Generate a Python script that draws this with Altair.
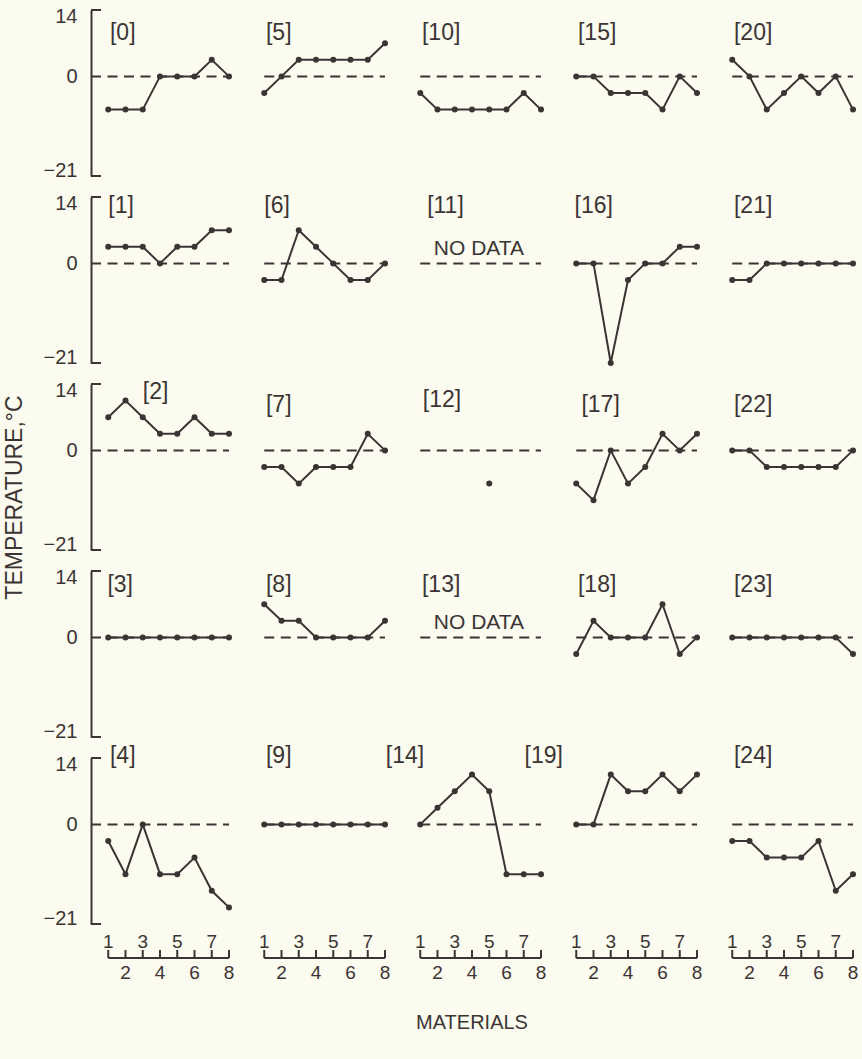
import altair as alt
import pandas as pd

# ---------------- data ----------------
materials = [1, 2, 3, 4, 5, 6, 7, 8]
y_ticks = [14, 0, -21]
odd_ticks = [1, 3, 5, 7]
even_ticks = [2, 4, 6, 8]

t0 = [-7, -7, -7, 0, 0, 0, 3.5, 0]
t1 = [3.5, 3.5, 3.5, 0, 3.5, 3.5, 7, 7]
t2 = [7, 10.5, 7, 3.5, 3.5, 7, 3.5, 3.5]
t3 = [0, 0, 0, 0, 0, 0, 0, 0]
t4 = [-3.5, -10.5, 0, -10.5, -10.5, -7, -14, -17.5]
t5 = [-3.5, 0, 3.5, 3.5, 3.5, 3.5, 3.5, 7]
t6 = [-3.5, -3.5, 7, 3.5, 0, -3.5, -3.5, 0]
t7 = [-3.5, -3.5, -7, -3.5, -3.5, -3.5, 3.5, 0]
t8 = [7, 3.5, 3.5, 0, 0, 0, 0, 3.5]
t9 = [0, 0, 0, 0, 0, 0, 0, 0]
t10 = [-3.5, -7, -7, -7, -7, -7, -3.5, -7]
t11 = [None, None, None, None, None, None, None, None]
t12 = [None, None, None, None, -7, None, None, None]
t13 = [None, None, None, None, None, None, None, None]
t14 = [0, 3.5, 7, 10.5, 7, -10.5, -10.5, -10.5]
t15 = [0, 0, -3.5, -3.5, -3.5, -7, 0, -3.5]
t16 = [0, 0, -21, -3.5, 0, 0, 3.5, 3.5]
t17 = [-7, -10.5, 0, -7, -3.5, 3.5, 0, 3.5]
t18 = [-3.5, 3.5, 0, 0, 0, 7, -3.5, 0]
t19 = [0, 0, 10.5, 7, 7, 10.5, 7, 10.5]
t20 = [3.5, 0, -7, -3.5, 0, -3.5, 0, -7]
t21 = [-3.5, -3.5, 0, 0, 0, 0, 0, 0]
t22 = [0, 0, -3.5, -3.5, -3.5, -3.5, -3.5, 0]
t23 = [0, 0, 0, 0, 0, 0, 0, -3.5]
t24 = [-3.5, -3.5, -7, -7, -7, -3.5, -14, -10.5]

series = [t0, t1, t2, t3, t4, t5, t6, t7, t8, t9, t10, t11, t12, t13, t14,
          t15, t16, t17, t18, t19, t20, t21, t22, t23, t24]
no_data_panels = [11, 13]

# panel label anchors (data units) – annotation placement
label_row_y = [9.1, 12, 9.6, 11, 14.5]
label_x_default = 1.1
label_override = {1: (1.0, 12), 2: (3.0, 12.3), 3: (0.95, 11), 6: (1.0, 12),
                  11: (1.4, 12), 12: (1.15, 10.6), 14: (-1.0, 14.5),
                  16: (0.9, 12), 17: (1.3, 9.6), 19: (-2.0, 14.5)}
no_data_anchor = (4.4, 3.0)

# ---------------- style ----------------
INK = "#3b3434"
BG = "#fbfbef"
FONT = "Liberation Sans"
W, H = 138, 166
X_DOMAIN = [0, 8]
Y_DOMAIN = [-21, 14]


def xsc():
    return alt.Scale(domain=X_DOMAIN, nice=False, zero=False)


def ysc():
    return alt.Scale(domain=Y_DOMAIN, nice=False, zero=False)


def panel(i, r, c):
    if c == 0:
        kw = dict(values=y_ticks, ticks=False, grid=False, domain=True,
                  domainColor=INK, domainWidth=2, labelColor=INK, labelFont=FONT,
                  labelFontSize=20, labelPadding=14, labelFlush=True,
                  labelFlushOffset=4, title=None)
        if r == 2:
            kw.update(title="TEMPERATURE,°C", titleX=-77, titleY=113, titleAngle=270,
                      titleFont=FONT, titleFontSize=23, titleFontWeight="normal",
                      titleColor=INK, titleAlign="center", titleBaseline="middle")
        yaxis = alt.Axis(**kw)
    else:
        yaxis = None

    def X(f):
        return alt.X(f, type="quantitative", scale=xsc(), axis=None)

    def Y(f):
        return alt.Y(f, type="quantitative", scale=ysc(), axis=yaxis)

    layers = []
    zdf = pd.DataFrame({"x0": [X_DOMAIN[0] if c == 0 else materials[0]],
                        "x1": [materials[-1]], "y": [0]})
    layers.append(alt.Chart(zdf).mark_rule(color=INK, strokeWidth=2, strokeDash=[10, 6.5])
                  .encode(x=X("x0"), x2="x1:Q", y=Y("y")))

    if c == 0:
        bdf = pd.DataFrame({"y": [Y_DOMAIN[1], Y_DOMAIN[0]]})
        layers.append(alt.Chart(bdf).mark_rule(color=INK, strokeWidth=2)
                      .encode(x=alt.value(0), x2=alt.value(10), y=Y("y")))

    df = pd.DataFrame({"material": materials, "temp": series[i]}).dropna()
    if len(df) > 0:
        df["temp"] = df["temp"].astype(float)
        layers.append(alt.Chart(df).mark_line(color=INK, strokeWidth=2)
                      .encode(x=X("material"), y=Y("temp")))
        layers.append(alt.Chart(df).mark_circle(color=INK, size=36, opacity=1)
                      .encode(x=X("material"), y=Y("temp")))

    lx, ly = label_override.get(i, (label_x_default, label_row_y[r]))
    ldf = pd.DataFrame({"lx": [lx], "ly": [ly], "name": [f"[{i}]"]})
    layers.append(alt.Chart(ldf).mark_text(align="left", baseline="middle", font=FONT,
                                           fontSize=23, color=INK)
                  .encode(x=X("lx"), y=Y("ly"), text="name:N"))

    if i in no_data_panels:
        ndf = pd.DataFrame({"nx": [no_data_anchor[0]], "ny": [no_data_anchor[1]],
                            "t": ["NO DATA"]})
        layers.append(alt.Chart(ndf).mark_text(align="center", baseline="middle",
                                               font=FONT, fontSize=21, color=INK)
                      .encode(x=X("nx"), y=Y("ny"), text="t:N"))

    return alt.layer(*layers).properties(width=W, height=H)


def ruler(c):
    def X(f):
        return alt.X(f, type="quantitative", scale=xsc(), axis=None)

    layers = []
    ldf = pd.DataFrame({"a": [materials[0]], "b": [materials[-1]]})
    layers.append(alt.Chart(ldf).mark_rule(color=INK, strokeWidth=2)
                  .encode(x=X("a"), x2="b:Q", y=alt.value(13)))
    tdf = pd.DataFrame({"m": materials})
    layers.append(alt.Chart(tdf).mark_rule(color=INK, strokeWidth=2)
                  .encode(x=X("m"), y=alt.value(5), y2=alt.value(13)))
    odf = pd.DataFrame({"m": odd_ticks})
    layers.append(alt.Chart(odf).mark_text(font=FONT, fontSize=19, color=INK,
                                           baseline="middle", align="center")
                  .encode(x=X("m"), y=alt.value(-3), text="m:N"))
    edf = pd.DataFrame({"m": even_ticks})
    layers.append(alt.Chart(edf).mark_text(font=FONT, fontSize=19, color=INK,
                                           baseline="middle", align="center")
                  .encode(x=X("m"), y=alt.value(28), text="m:N"))
    if c == 2:
        mdf = pd.DataFrame({"t": ["MATERIALS"]})
        layers.append(alt.Chart(mdf).mark_text(font=FONT, fontSize=20, color=INK,
                                               baseline="middle", align="center")
                      .encode(x=alt.value(W / 2), y=alt.value(78), text="t:N"))
    return alt.layer(*layers).properties(width=W, height=56)


cells = []
for r in range(5):
    for c in range(5):
        cells.append(panel(5 * c + r, r, c))
for c in range(5):
    cells.append(ruler(c))

chart = (
    alt.concat(*cells, columns=5, spacing={"row": 21, "column": 18},
               bounds="flush", align="each")
    .properties(background=BG, padding={"left": 3, "top": 6, "right": 3, "bottom": 29})
    .configure_view(strokeWidth=0)
)

chart.save("out.html", embed_options={"renderer": "svg", "actions": False})
